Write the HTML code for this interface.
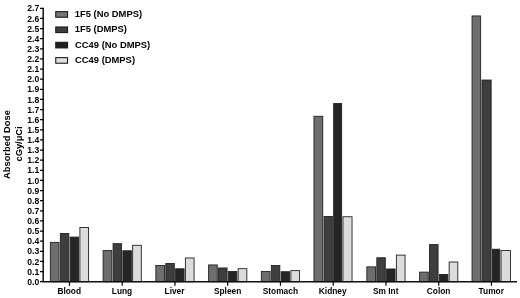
<!DOCTYPE html>
<html><head><meta charset="utf-8"><style>
html,body{margin:0;padding:0;background:#fff;}
body{width:520px;height:298px;overflow:hidden;font-family:"Liberation Sans",sans-serif;}
svg{display:block;will-change:transform;}
svg text{font-family:"Liberation Sans",sans-serif;font-weight:bold;fill:#000;}
</style></head><body>
<svg width="520" height="298" viewBox="0 0 520 298">
<rect width="520" height="298" fill="#fff"/>
<rect x="50.35" y="242.35" width="8.68" height="39.35" fill="#6e6e6e" stroke="#222222" stroke-width="0.9"/>
<rect x="60.33" y="233.55" width="8.48" height="48.15" fill="#3e3e3e" stroke="#222222" stroke-width="0.9"/>
<rect x="70.11" y="237.09" width="8.48" height="44.61" fill="#252525" stroke="#222222" stroke-width="0.9"/>
<rect x="79.89" y="227.47" width="8.68" height="54.23" fill="#dcdcdc" stroke="#222222" stroke-width="0.9"/>
<rect x="103.10" y="250.56" width="8.68" height="31.14" fill="#6e6e6e" stroke="#222222" stroke-width="0.9"/>
<rect x="113.08" y="243.67" width="8.48" height="38.03" fill="#3e3e3e" stroke="#222222" stroke-width="0.9"/>
<rect x="122.86" y="250.76" width="8.48" height="30.94" fill="#252525" stroke="#222222" stroke-width="0.9"/>
<rect x="132.64" y="245.29" width="8.68" height="36.41" fill="#dcdcdc" stroke="#222222" stroke-width="0.9"/>
<rect x="155.85" y="265.54" width="8.68" height="16.16" fill="#6e6e6e" stroke="#222222" stroke-width="0.9"/>
<rect x="165.83" y="263.52" width="8.48" height="18.18" fill="#3e3e3e" stroke="#222222" stroke-width="0.9"/>
<rect x="175.61" y="268.78" width="8.48" height="12.92" fill="#252525" stroke="#222222" stroke-width="0.9"/>
<rect x="185.39" y="257.95" width="8.68" height="23.75" fill="#dcdcdc" stroke="#222222" stroke-width="0.9"/>
<rect x="208.60" y="264.94" width="8.68" height="16.76" fill="#6e6e6e" stroke="#222222" stroke-width="0.9"/>
<rect x="218.58" y="267.97" width="8.48" height="13.73" fill="#3e3e3e" stroke="#222222" stroke-width="0.9"/>
<rect x="228.36" y="271.52" width="8.48" height="10.18" fill="#252525" stroke="#222222" stroke-width="0.9"/>
<rect x="238.14" y="268.68" width="8.68" height="13.02" fill="#dcdcdc" stroke="#222222" stroke-width="0.9"/>
<rect x="261.35" y="271.42" width="8.68" height="10.28" fill="#6e6e6e" stroke="#222222" stroke-width="0.9"/>
<rect x="271.33" y="265.54" width="8.48" height="16.16" fill="#3e3e3e" stroke="#222222" stroke-width="0.9"/>
<rect x="281.11" y="271.72" width="8.48" height="9.98" fill="#252525" stroke="#222222" stroke-width="0.9"/>
<rect x="290.89" y="270.61" width="8.68" height="11.09" fill="#dcdcdc" stroke="#222222" stroke-width="0.9"/>
<rect x="313.95" y="116.29" width="8.80" height="165.41" fill="#6e6e6e" stroke="#222222" stroke-width="0.9"/>
<rect x="324.05" y="216.43" width="8.30" height="65.27" fill="#3e3e3e" stroke="#222222" stroke-width="0.9"/>
<rect x="333.65" y="103.53" width="8.00" height="178.17" fill="#252525" stroke="#222222" stroke-width="0.9"/>
<rect x="342.95" y="216.74" width="9.10" height="64.96" fill="#dcdcdc" stroke="#222222" stroke-width="0.9"/>
<rect x="366.85" y="266.86" width="8.68" height="14.84" fill="#6e6e6e" stroke="#222222" stroke-width="0.9"/>
<rect x="376.83" y="257.75" width="8.48" height="23.95" fill="#3e3e3e" stroke="#222222" stroke-width="0.9"/>
<rect x="386.61" y="268.99" width="8.48" height="12.71" fill="#252525" stroke="#222222" stroke-width="0.9"/>
<rect x="396.39" y="255.11" width="8.68" height="26.59" fill="#dcdcdc" stroke="#222222" stroke-width="0.9"/>
<rect x="419.60" y="272.13" width="8.68" height="9.57" fill="#6e6e6e" stroke="#222222" stroke-width="0.9"/>
<rect x="429.58" y="244.58" width="8.48" height="37.12" fill="#3e3e3e" stroke="#222222" stroke-width="0.9"/>
<rect x="439.36" y="274.45" width="8.48" height="7.25" fill="#252525" stroke="#222222" stroke-width="0.9"/>
<rect x="449.14" y="262.00" width="8.68" height="19.70" fill="#dcdcdc" stroke="#222222" stroke-width="0.9"/>
<rect x="472.05" y="15.94" width="8.60" height="265.76" fill="#6e6e6e" stroke="#222222" stroke-width="0.9"/>
<rect x="481.95" y="80.04" width="9.20" height="201.66" fill="#3e3e3e" stroke="#222222" stroke-width="0.9"/>
<rect x="492.45" y="249.24" width="7.30" height="32.46" fill="#252525" stroke="#222222" stroke-width="0.9"/>
<rect x="501.05" y="250.56" width="9.40" height="31.14" fill="#dcdcdc" stroke="#222222" stroke-width="0.9"/>
<path d="M43.2 7.70V282.3M42.5 281.65H517.0" stroke="#111" stroke-width="1.5" fill="none"/>
<text transform="translate(39.25,284.70)" x="-11.96" y="0.00" font-size="8.6">0.0</text>
<text transform="translate(39.25,274.57)" x="-11.96" y="0.00" font-size="8.6">0.1</text>
<text transform="translate(39.25,264.75)" x="-11.96" y="0.00" font-size="8.6">0.2</text>
<text transform="translate(39.25,253.72)" x="-11.96" y="0.00" font-size="8.6">0.3</text>
<text transform="translate(39.25,243.60)" x="-11.96" y="0.00" font-size="8.6">0.4</text>
<text transform="translate(39.25,233.77)" x="-11.96" y="0.00" font-size="8.6">0.5</text>
<text transform="translate(39.25,223.64)" x="-11.96" y="0.00" font-size="8.6">0.6</text>
<text transform="translate(39.25,213.52)" x="-11.96" y="0.00" font-size="8.6">0.7</text>
<text transform="translate(39.25,203.69)" x="-11.96" y="0.00" font-size="8.6">0.8</text>
<text transform="translate(39.25,193.57)" x="-11.96" y="0.00" font-size="8.6">0.9</text>
<text transform="translate(39.25,183.74)" x="-11.96" y="0.00" font-size="8.6">1.0</text>
<text transform="translate(39.25,172.71)" x="-11.96" y="0.00" font-size="8.6">1.1</text>
<text transform="translate(39.25,162.59)" x="-11.96" y="0.00" font-size="8.6">1.2</text>
<text transform="translate(39.25,152.76)" x="-11.96" y="0.00" font-size="8.6">1.3</text>
<text transform="translate(39.25,142.64)" x="-11.96" y="0.00" font-size="8.6">1.4</text>
<text transform="translate(39.25,132.51)" x="-11.96" y="0.00" font-size="8.6">1.5</text>
<text transform="translate(39.25,122.68)" x="-11.96" y="0.00" font-size="8.6">1.6</text>
<text transform="translate(39.25,112.56)" x="-11.96" y="0.00" font-size="8.6">1.7</text>
<text transform="translate(39.25,102.73)" x="-11.96" y="0.00" font-size="8.6">1.8</text>
<text transform="translate(39.25,91.71)" x="-11.96" y="0.00" font-size="8.6">1.9</text>
<text transform="translate(39.25,81.58)" x="-11.96" y="0.00" font-size="8.6">2.0</text>
<text transform="translate(39.25,71.75)" x="-11.96" y="0.00" font-size="8.6">2.1</text>
<text transform="translate(39.25,61.63)" x="-11.96" y="0.00" font-size="8.6">2.2</text>
<text transform="translate(39.25,51.50)" x="-11.96" y="0.00" font-size="8.6">2.3</text>
<text transform="translate(39.25,41.68)" x="-11.96" y="0.00" font-size="8.6">2.4</text>
<text transform="translate(39.25,31.55)" x="-11.96" y="0.00" font-size="8.6">2.5</text>
<text transform="translate(39.25,21.72)" x="-11.96" y="0.00" font-size="8.6">2.6</text>
<text transform="translate(39.25,10.70)" x="-11.96" y="0.00" font-size="8.6">2.7</text>
<text transform="translate(69.26,293.60) scale(1.0,1.04)" x="-11.83" y="0.00" font-size="8.35">Blood</text>
<text transform="translate(122.01,293.60) scale(1.0,1.04)" x="-10.20" y="0.00" font-size="8.35">Lung</text>
<text transform="translate(174.76,293.60) scale(1.0,1.04)" x="-10.19" y="0.00" font-size="8.35">Liver</text>
<text transform="translate(227.51,293.60) scale(1.0,1.04)" x="-13.55" y="0.00" font-size="8.35">Spleen</text>
<text transform="translate(280.26,293.60) scale(1.0,1.04)" x="-17.49" y="0.00" font-size="8.35">Stomach</text>
<text transform="translate(333.01,293.60) scale(1.0,1.04)" x="-14.18" y="0.00" font-size="8.35">Kidney</text>
<text transform="translate(385.76,293.60) scale(1.0,1.04)" x="-12.83" y="0.00" font-size="8.35">Sm Int</text>
<text transform="translate(438.51,293.60) scale(1.0,1.04)" x="-11.74" y="0.00" font-size="8.35">Colon</text>
<text transform="translate(491.26,293.60) scale(1.0,1.04)" x="-12.66" y="0.00" font-size="8.35">Tumor</text>
<path d="M40.0 281.70H43.2M40.0 271.57H43.2M40.0 261.45H43.2M40.0 251.32H43.2M40.0 241.20H43.2M40.0 231.07H43.2M40.0 220.94H43.2M40.0 210.82H43.2M40.0 200.69H43.2M40.0 190.57H43.2M40.0 180.44H43.2M40.0 170.31H43.2M40.0 160.19H43.2M40.0 150.06H43.2M40.0 139.94H43.2M40.0 129.81H43.2M40.0 119.68H43.2M40.0 109.56H43.2M40.0 99.43H43.2M40.0 89.31H43.2M40.0 79.18H43.2M40.0 69.05H43.2M40.0 58.93H43.2M40.0 48.80H43.2M40.0 38.68H43.2M40.0 28.55H43.2M40.0 18.42H43.2M40.0 8.30H43.2M69.46 281.7V285.8M122.21 281.7V285.8M174.96 281.7V285.8M227.71 281.7V285.8M280.46 281.7V285.8M333.21 281.7V285.8M385.96 281.7V285.8M438.71 281.7V285.8M491.46 281.7V285.8" stroke="#000" stroke-width="1.2" fill="none"/>
<rect x="55.75" y="11.65" width="11.8" height="5.6" fill="#767676" stroke="#1c1c1c" stroke-width="1.1"/>
<text transform="translate(75.40,16.60) scale(1.0,1.03)" x="-0.64" y="0.00" font-size="9.4">1F5 (No DMPS)</text>
<rect x="55.75" y="26.98" width="11.8" height="5.6" fill="#3e3e3e" stroke="#1c1c1c" stroke-width="1.1"/>
<text transform="translate(75.40,31.88) scale(1.0,1.03)" x="-0.64" y="0.00" font-size="9.4">1F5 (DMPS)</text>
<rect x="55.75" y="42.31" width="11.8" height="5.6" fill="#202020" stroke="#1c1c1c" stroke-width="1.1"/>
<text transform="translate(75.40,47.76) scale(1.0,1.03)" x="-0.39" y="0.00" font-size="9.4">CC49 (No DMPS)</text>
<rect x="55.75" y="57.64" width="11.8" height="5.6" fill="#e0e0e0" stroke="#1c1c1c" stroke-width="1.1"/>
<text transform="translate(75.40,63.04) scale(1.0,1.03)" x="-0.39" y="0.00" font-size="9.4">CC49 (DMPS)</text>
<text transform="translate(9.80,144.60) rotate(-90) scale(1.0,1.03)" x="-34.32" y="0.00" font-size="9.3">Absorbed Dose</text>
<text transform="translate(21.70,144.10) rotate(-90) scale(1.0,1.03)" x="-17.43" y="0.00" font-size="9.3">cGy/μCi</text>
</svg>
</body></html>
